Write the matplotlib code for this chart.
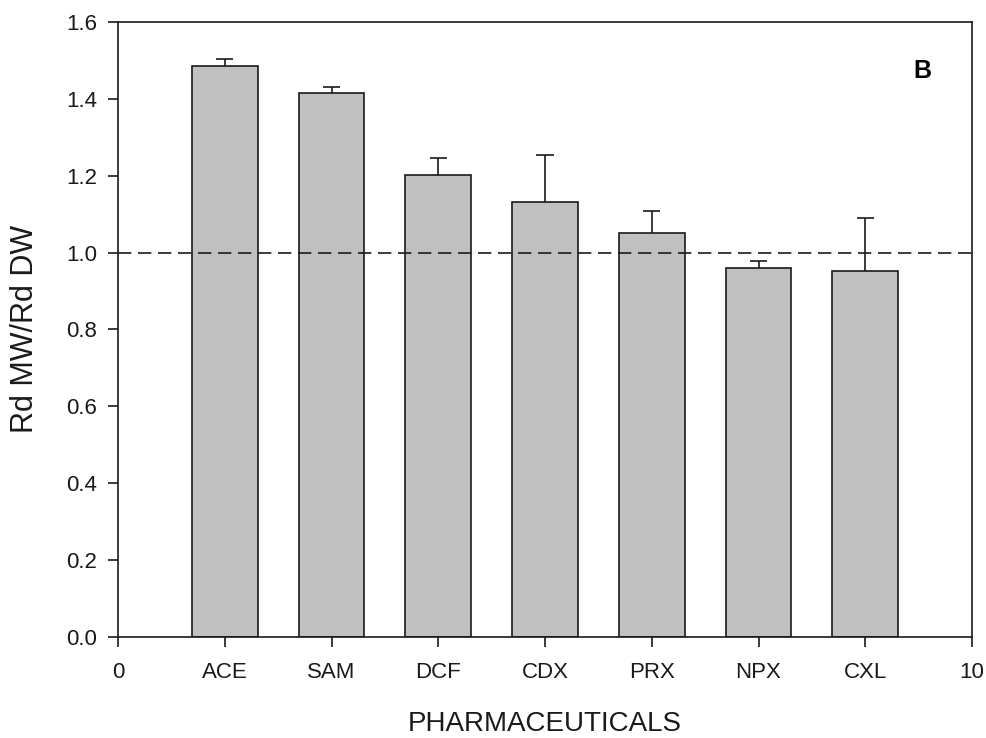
import matplotlib.pyplot as plt

plt.rcParams['font.family'] = ['Liberation Sans', 'DejaVu Sans']

drugs = ["ACE", "SAM", "DCF", "CDX", "PRX", "NPX", "CXL"]
ratio = [1.485, 1.415, 1.202, 1.132, 1.050, 0.959, 0.951]
ratio_err = [0.020, 0.016, 0.044, 0.122, 0.059, 0.020, 0.138]

INK = "#1a1a1a"


def main() -> None:
    fig = plt.figure(figsize=(9.87, 7.38), dpi=100)
    ax = fig.add_axes([0.1196, 0.1369, 0.8652, 0.8333])

    pos = [1.25 * (i + 1) for i in range(len(drugs))]
    ax.bar(pos, ratio, width=0.77, color="#c0c0c0", edgecolor=INK,
           linewidth=1.2, zorder=2)

    # upper error bars only: stem from the bar top plus a cap
    tops = [r + e for r, e in zip(ratio, ratio_err)]
    ax.vlines(pos, ratio, tops, color=INK, linewidth=1.2, zorder=3)
    ax.hlines(tops, [p - 0.1 for p in pos], [p + 0.1 for p in pos],
              color=INK, linewidth=1.2, zorder=3)

    ax.axhline(1.0, color=INK, linewidth=1.2, linestyle=(0, (8, 4)),
               zorder=4)

    ax.set_xlim(0, 10)
    ax.set_ylim(0, 1.6)
    ax.set_xticks([0] + pos + [10])
    ax.set_xticklabels(["0"] + drugs + ["10"])
    ax.set_yticks([0.0, 0.2, 0.4, 0.6, 0.8, 1.0, 1.2, 1.4, 1.6])
    ax.set_yticklabels([f"{v:.1f}" for v in ax.get_yticks()])
    ax.tick_params(direction="out", length=7, width=1.2, labelsize=16,
                   colors=INK, pad=8)
    ax.tick_params(axis="x", pad=11)
    for s in ax.spines.values():
        s.set_linewidth(1.2)
        s.set_color(INK)

    fig.text(545 / 987, 1 - 731 / 738, "PHARMACEUTICALS", fontsize=20,
             ha="center", va="baseline", color=INK)
    fig.text(25 / 987, 1 - 329 / 738, "Rd MW/Rd DW", fontsize=22,
             rotation=90, ha="center", va="center", color=INK)
    ax.text(922 / 987, 1 - 71 / 738, "B", transform=fig.transFigure,
            fontsize=18, fontweight="bold", ha="center", va="center")

    fig.savefig("out.png", dpi=100)
    plt.close(fig)


if __name__ == "__main__":
    main()
